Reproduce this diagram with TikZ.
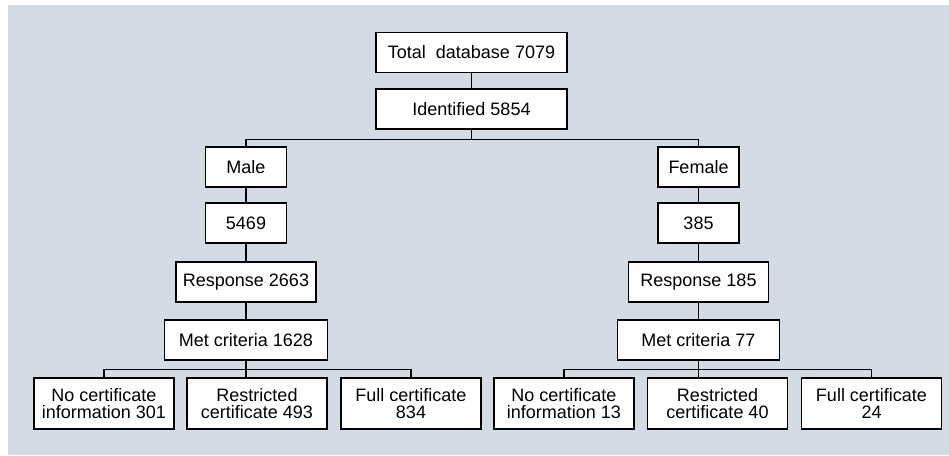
\documentclass[tikz,border=0pt]{standalone}
\usepackage{fontspec}
\setmainfont{Liberation Sans}
\usepackage{tikz}
\definecolor{panelblue}{HTML}{D4DBE5}
\tikzset{%
  % Specifications for style of nodes:
            base/.style = {rectangle, draw=black, fill=white, line width=1.3pt,
                           minimum height=40pt, inner sep=2pt,
                           text centered, font=\fontsize{18}{17.5}\selectfont},
        widebox/.style = {base, minimum width=191pt},
       smallbox/.style = {base, minimum width=81pt},
        respbox/.style = {base, minimum width=140pt},
         metbox/.style = {base, minimum width=163pt},
        leafbox/.style = {base, minimum width=140pt, minimum height=51pt,
                           align=center},
           link/.style = {line width=1.3pt},
}

\begin{document}
\begin{tikzpicture}[x=1pt, y=1pt, node distance=58pt]
  % background panel and margins
  \useasboundingbox (0,0) rectangle (949,-455);
  \fill[panelblue] (8,-5) rectangle (949,-455);
  % Specification of nodes (position, etc.)
  \node (total) [widebox] at (471.5,-52.5) {Total\ \ database 7079};
  \node (ident) [widebox, below of=total, yshift=1.5pt] {Identified 5854};
  % male branch
  \node (male)  [smallbox, below of=ident, xshift=-225.5pt] {Male};
  \node (mnum)  [smallbox, below of=male, yshift=2pt] {5469};
  \node (mresp) [respbox, below of=mnum, yshift=-1pt] {Response 2663};
  \node (mmet)  [metbox, below of=mresp] {Met criteria 1628};
  \node (mnone) [leafbox, below of=mmet, yshift=-5.5pt, xshift=-142pt] {No certificate\\information 301};
  \node (mres)  [leafbox, below of=mmet, yshift=-5.5pt, xshift=11pt] {Restricted\\certificate 493};
  \node (mfull) [leafbox, below of=mmet, yshift=-5.5pt, xshift=165pt] {Full certificate\\834};
  % female branch
  \node (fem)   [smallbox, below of=ident, xshift=227pt] {Female};
  \node (fnum)  [smallbox, below of=fem, yshift=2pt] {385};
  \node (fresp) [respbox, below of=fnum, yshift=-1pt] {Response 185};
  \node (fmet)  [metbox, minimum width=162pt, below of=fresp] {Met criteria 77};
  \node (fnone) [leafbox, below of=fmet, yshift=-5.5pt, xshift=-134.5pt] {No certificate\\information 13};
  \node (fres)  [leafbox, below of=fmet, yshift=-5.5pt, xshift=19pt] {Restricted\\certificate 40};
  \node (ffull) [leafbox, below of=fmet, yshift=-5.5pt, xshift=173pt] {Full certificate\\24};
  % Specification of lines between nodes specified above
  \draw[link] (total) -- (ident);
  \draw[link] (ident.south) -- ++(0,-10) coordinate (sex);
  \draw[link] (male.north) |- (sex) -| (fem.north);
  \draw[link] (male) -- (mnum);
  \draw[link] (mnum) -- (mresp);
  \draw[link] (mresp) -- (mmet);
  \draw[link] (fem) -- (fnum);
  \draw[link] (fnum) -- (fresp);
  \draw[link] (fresp) -- (fmet);
  \draw[link] (mmet.south) -- ++(0,-9) coordinate (mcert);
  \draw[link] (mnone.north) |- (mcert) -| (mfull.north);
  \draw[link] (mcert) -- (mcert |- mres.north);
  \draw[link] (fmet.south) -- ++(0,-9) coordinate (fcert);
  \draw[link] (fnone.north) |- (fcert) -| (ffull.north);
  \draw[link] (fcert) -- (fcert |- fres.north);
\end{tikzpicture}
\end{document}
